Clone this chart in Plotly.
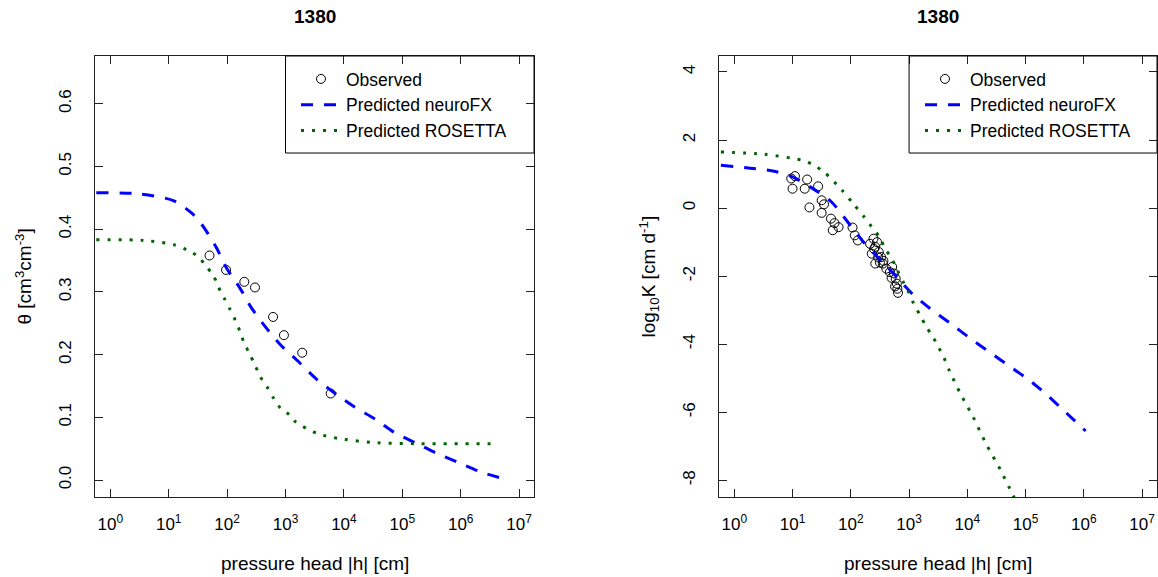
import plotly.graph_objects as go

# ---------------- data ----------------
title_text = "1380"
x_tick_vals = [1, 10, 100, 1e3, 1e4, 1e5, 1e6, 1e7]
x_tick_text = ["10<sup>%d</sup>" % i for i in range(8)]
theta_tick_vals = [0.0, 0.1, 0.2, 0.3, 0.4, 0.5, 0.6]
theta_tick_text = ["0.0", "0.1", "0.2", "0.3", "0.4", "0.5", "0.6"]
k_tick_vals = [-8, -6, -4, -2, 0, 2, 4]
k_tick_text = ["-8", "-6", "-4", "-2", "0", "2", "4"]

# water retention: observed
theta_obs_h = [50, 96, 197, 300, 612, 940, 1930, 5940]
theta_obs = [0.358, 0.335, 0.316, 0.307, 0.260, 0.231, 0.203, 0.138]

# water retention: predicted neuroFX (log10 |h|, theta)
theta_nfx_log10h = [-0.24, 0.52, 1.09, 1.40, 1.57, 1.82, 1.99, 2.22, 2.42, 2.65, 2.92,
                    3.22, 3.53, 3.88, 4.19, 4.54, 4.88, 5.26, 5.58, 5.96, 6.34, 6.78]
theta_nfx = [0.458, 0.456, 0.445, 0.425, 0.407, 0.370, 0.338, 0.306, 0.274, 0.245, 0.215,
             0.189, 0.161, 0.136, 0.116, 0.097, 0.075, 0.058, 0.043, 0.028, 0.013, 0.001]

# water retention: predicted ROSETTA
theta_ros_log10h = [-0.24, 0.58, 1.09, 1.31, 1.51, 1.62, 1.76, 1.85, 1.95, 2.05, 2.14, 2.22,
                    2.29, 2.38, 2.48, 2.56, 2.68, 2.80, 2.92, 3.07, 3.17, 3.55, 4.00, 4.57,
                    5.26, 6.65]
theta_ros = [0.383, 0.382, 0.375, 0.367, 0.356, 0.343, 0.327, 0.308, 0.290, 0.272, 0.255,
             0.237, 0.219, 0.202, 0.183, 0.166, 0.149, 0.130, 0.114, 0.104, 0.093, 0.074,
             0.065, 0.0595, 0.058, 0.058]

# hydraulic conductivity: observed
k_obs_h = [9.5, 11, 10, 17.8, 16.2, 27.5, 19.5, 31.6, 34.7, 31.6, 45.7, 52.5, 49, 61.7,
           107, 117, 132, 245, 263, 229, 302, 263, 331, 355, 407, 513, 550, 589, 617,
           631, 646, 468, 282, 251, 295, 363, 501, 575, 214, 316]
k_obs = [0.87, 0.94, 0.57, 0.84, 0.57, 0.64, 0.02, 0.23, 0.11, -0.14, -0.31, -0.44, -0.65,
         -0.56, -0.57, -0.80, -0.95, -0.90, -1.14, -1.34, -1.29, -1.63, -1.44, -1.63, -1.78,
         -1.73, -1.92, -2.07, -2.22, -2.37, -2.49, -1.88, -1.00, -1.20, -1.45, -1.55, -2.05,
         -2.30, -1.05, -1.60]

# hydraulic conductivity: predicted neuroFX
k_nfx_log10h = [-0.23, 0.66, 1.00, 1.35, 1.67, 1.88, 2.21, 2.48, 2.76, 3.02, 3.36, 3.71,
                4.05, 4.38, 4.70, 5.05, 5.36, 5.68, 6.03]
k_nfx = [1.258, 1.09, 0.915, 0.573, 0.180, -0.26, -0.98, -1.48, -1.97, -2.46, -2.95, -3.39,
         -3.83, -4.23, -4.62, -5.04, -5.48, -5.99, -6.55]

# hydraulic conductivity: predicted ROSETTA
k_ros_log10h = [-0.23, 0.52, 1.16, 1.35, 1.54, 1.85, 2.04, 2.22, 2.36, 2.49, 2.59, 2.71,
                2.80, 2.90, 2.99, 3.08, 3.19, 3.29, 3.41, 3.51, 3.60, 3.69, 3.88, 4.10,
                4.32, 4.57, 4.77, 4.86]
k_ros = [1.649, 1.581, 1.405, 1.278, 1.061, 0.524, 0.133, -0.241, -0.555, -0.849, -1.19,
         -1.51, -1.83, -2.17, -2.46, -2.81, -3.15, -3.47, -3.79, -4.10, -4.40, -4.77, -5.45,
         -6.14, -6.92, -7.70, -8.39, -8.70]

# ---------------- styling ----------------
W, H = 1158, 577
FONT = "Liberation Sans, Arial, sans-serif"
BLUE = "#0000FF"
GREEN = "#006400"
AX = "#222222"

def px_x(p):
    return p / W

def px_y(p):
    return 1 - p / H

left_dom = [px_x(95), px_x(534)]
right_dom = [px_x(719), px_x(1157)]
y_dom = [px_y(497), px_y(56)]

fig = go.Figure()

def add_panel(xa, ya, legend, oh, ov, nh, nv, rh, rv):
    fig.add_trace(go.Scatter(
        x=oh, y=ov, mode="markers", name="Observed", xaxis=xa, yaxis=ya, legend=legend,
        marker=dict(symbol="circle-open", size=9, color="black", line=dict(width=1, color="black")),
    ))
    fig.add_trace(go.Scatter(
        x=[10 ** v for v in nh], y=nv, mode="lines", name="Predicted neuroFX",
        xaxis=xa, yaxis=ya, legend=legend,
        line=dict(color=BLUE, width=3, dash="12px,11px", shape="spline", smoothing=0.8),
    ))
    fig.add_trace(go.Scatter(
        x=[10 ** v for v in rh], y=rv, mode="lines", name="Predicted ROSETTA",
        xaxis=xa, yaxis=ya, legend=legend,
        line=dict(color=GREEN, width=3, dash="3px,8px", shape="spline", smoothing=0.8),
    ))

add_panel("x", "y", "legend", theta_obs_h, theta_obs, theta_nfx_log10h, theta_nfx,
          theta_ros_log10h, theta_ros)
add_panel("x2", "y2", "legend2", k_obs_h, k_obs, k_nfx_log10h, k_nfx,
          k_ros_log10h, k_ros)

xcommon = dict(
    type="log", range=[-0.262, 7.255], tickvals=x_tick_vals, ticktext=x_tick_text,
    ticks="inside", ticklen=8, tickwidth=1, tickcolor=AX, showline=True, linecolor=AX,
    linewidth=1, mirror="ticks", showgrid=False, zeroline=False, automargin=False,
    tickfont=dict(family=FONT, size=17, color="black"), ticklabelstandoff=12,
)
ycommon = dict(
    ticks="inside", ticklen=8, tickwidth=1, tickcolor=AX, showline=True, linecolor=AX,
    linewidth=1, mirror="ticks", showgrid=False, zeroline=False, automargin=False,
    tickfont=dict(family=FONT, size=17, color="black"), tickangle=-90, ticklabelstandoff=16,
)

legend_common = dict(
    font=dict(family=FONT, size=17.5, color="black"), bgcolor="rgba(0,0,0,0)", borderwidth=0,
    itemwidth=40, xanchor="left", yanchor="top", y=px_y(61), tracegroupgap=0,
)

fig.update_layout(
    width=W, height=H, autosize=False,
    margin=dict(l=0, r=0, t=0, b=0),
    paper_bgcolor="white", plot_bgcolor="white",
    font=dict(family=FONT, color="black"),
    xaxis=dict(domain=left_dom, anchor="y", **xcommon),
    yaxis=dict(domain=y_dom, anchor="x", range=[-0.027, 0.676], tickvals=theta_tick_vals,
               ticktext=theta_tick_text, **ycommon),
    xaxis2=dict(domain=right_dom, anchor="y2", **xcommon),
    yaxis2=dict(domain=y_dom, anchor="x2", range=[-8.49, 4.47], tickvals=k_tick_vals,
                ticktext=k_tick_text, **ycommon),
    legend=dict(x=px_x(296), **legend_common),
    legend2=dict(x=px_x(920), **legend_common),
    showlegend=True,
)

# legend frames (R style boxes anchored at the top-right corner of each panel)
for xr, yr in (("x domain", "y domain"), ("x2 domain", "y2 domain")):
    fig.add_shape(type="rect", xref=xr, yref=yr, x0=0.434, x1=1.0, y0=0.780, y1=1.0,
                  line=dict(color="black", width=1), fillcolor="rgba(0,0,0,0)", layer="above")

ann_font = dict(family=FONT, size=19, color="black")
annotations = [
    dict(text="<b>%s</b>" % title_text, xref="x domain", yref="paper", x=0.5, y=px_y(17),
         xanchor="center", yanchor="middle", showarrow=False, font=ann_font),
    dict(text="<b>%s</b>" % title_text, xref="x2 domain", yref="paper", x=0.5, y=px_y(17),
         xanchor="center", yanchor="middle", showarrow=False, font=ann_font),
    dict(text="pressure head |h| [cm]", xref="x domain", yref="paper", x=0.5, y=px_y(563),
         xanchor="center", yanchor="middle", showarrow=False, font=ann_font),
    dict(text="pressure head |h| [cm]", xref="x2 domain", yref="paper", x=0.5, y=px_y(563),
         xanchor="center", yanchor="middle", showarrow=False, font=ann_font),
    dict(text="θ [cm<sup>3</sup>cm<sup>-3</sup>]", xref="paper", yref="y domain",
         x=px_x(23), y=0.5, xanchor="center", yanchor="middle", textangle=-90,
         showarrow=False, font=ann_font),
    dict(text="log<sub>10</sub>K [cm d<sup>-1</sup>]", xref="paper", yref="y2 domain",
         x=px_x(649), y=0.5, xanchor="center", yanchor="middle", textangle=-90,
         showarrow=False, font=ann_font),
]
fig.update_layout(annotations=annotations)

fig.write_html("out.html")
